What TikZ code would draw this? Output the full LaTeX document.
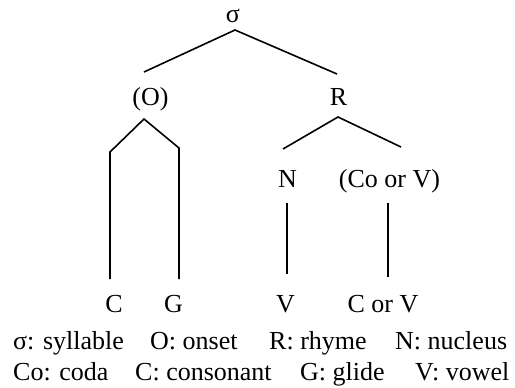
\documentclass[tikz,border=0pt]{standalone}
\usepackage{fontspec}
\setmainfont{Liberation Serif}
\begin{document}
\begin{tikzpicture}[x=1pt,y=-1pt,
  lbl/.style={inner sep=0pt,anchor=base,font=\fontsize{26}{31}\selectfont},
  leg/.style={inner sep=0pt,anchor=base west,font=\fontsize{26}{31}\selectfont},
  branch/.style={line width=1.6pt}]
\useasboundingbox (0,0) rectangle (515,388);
% labels
\node[lbl] (s) at (233,23) {σ};
\node[lbl] (O) at (150.5,105) {(O)};
\node[lbl] (R) at (338.5,105) {R};
\node[lbl] (N) at (287.5,187) {N};
\node[lbl] (CoV) at (389.5,187) {(Co or V)};
\node[lbl] (C) at (114,312) {C};
\node[lbl] (G) at (173.5,312) {G};
\node[lbl] (V) at (285.5,312) {V};
\node[lbl] (CorV) at (383,312) {C or V};
% legend
\node[leg] (l1) at (13,349) {σ: syllable};
\node[leg] (l2) at (150,349) {O: onset};
\node[leg] (l3) at (269,349) {R: rhyme};
\node[leg] (l4) at (395,349) {N: nucleus};
\node[leg] (l5) at (13,380) {Co: coda};
\node[leg] (l6) at (135,380) {C: consonant};
\node[leg] (l7) at (300,380) {G: glide};
\node[leg] (l8) at (415,380) {V: vowel};
% branch points
\coordinate (sA) at (235,30);
\coordinate (sL) at (144,72);
\coordinate (sR) at (337,74);
\coordinate (oA) at (144,119);
\coordinate (oL) at (110,152);
\coordinate (oR) at (179,148);
\coordinate (oLb) at (110,279);
\coordinate (oRb) at (179,279);
\coordinate (rA) at (338,117);
\coordinate (rL) at (283,149);
\coordinate (rR) at (401,147);
\coordinate (nT) at (287,203);
\coordinate (nB) at (287,274);
\coordinate (cT) at (388,203);
\coordinate (cB) at (388,277);
% branches
\draw[branch] (sL) -- (sA) -- (sR);
\draw[branch] (oLb) -- (oL) -- (oA) -- (oR) -- (oRb);
\draw[branch] (rL) -- (rA) -- (rR);
\draw[branch] (nT) -- (nB);
\draw[branch] (cT) -- (cB);
\end{tikzpicture}
\end{document}
